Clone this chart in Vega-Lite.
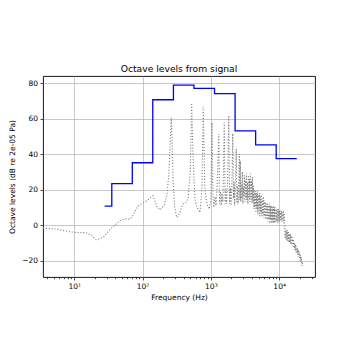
{
  "$schema": "https://vega.github.io/schema/vega-lite/v6.json",
  "autosize": {"type": "none"},
  "padding": {"left": 43, "top": 76, "right": 35, "bottom": 73},
  "width": 272,
  "height": 201,
  "background": "white",
  "config": {
    "font": "DejaVu Sans",
    "view": {"stroke": "black", "strokeWidth": 0.9},
    "axis": {
      "domain": false,
      "labelFont": "DejaVu Sans",
      "titleFont": "DejaVu Sans",
      "labelFontSize": 7.5,
      "titleFontSize": 7.5,
      "titleFontWeight": "normal",
      "labelColor": "black",
      "titleColor": "black",
      "tickColor": "black",
      "tickWidth": 0.7,
      "gridColor": "#b0b0b0",
      "gridWidth": 0.7
    }
  },
  "title": {
    "text": "Octave levels from signal",
    "font": "DejaVu Sans",
    "fontSize": 9.2,
    "fontWeight": "normal",
    "color": "black",
    "baseline": "alphabetic",
    "offset": -5.5
  },
  "datasets": {
    "spectrum": [
      {"f": 3.48, "db": -1.7}, {"f": 4.2, "db": -2.0}, {"f": 5.4, "db": -2.3}, {"f": 6.8, "db": -3.0},
      {"f": 8.6, "db": -3.8}, {"f": 11, "db": -4.2}, {"f": 14.8, "db": -4.3}, {"f": 18.1, "db": -6},
      {"f": 20.8, "db": -8.3}, {"f": 23.8, "db": -7.8}, {"f": 27.2, "db": -6.5}, {"f": 33.3, "db": -2.5},
      {"f": 39.4, "db": 0}, {"f": 46.7, "db": 2.5}, {"f": 55.2, "db": 3.5}, {"f": 65.4, "db": 3.2},
      {"f": 72.3, "db": 5.5}, {"f": 80, "db": 9}, {"f": 91.6, "db": 11.5}, {"f": 108, "db": 13},
      {"f": 128, "db": 15}, {"f": 142, "db": 16.5}, {"f": 150, "db": 14}, {"f": 162, "db": 10.5},
      {"f": 180, "db": 8.5}, {"f": 206, "db": 11}, {"f": 228, "db": 17}, {"f": 244, "db": 30},
      {"f": 256, "db": 50}, {"f": 263, "db": 60.6}, {"f": 270, "db": 48}, {"f": 280, "db": 25},
      {"f": 295, "db": 10}, {"f": 316, "db": 4.3}, {"f": 353, "db": 7}, {"f": 387, "db": 11.8},
      {"f": 440, "db": 13}, {"f": 465, "db": 15.5}, {"f": 500, "db": 30}, {"f": 523, "db": 68.7},
      {"f": 546, "db": 40}, {"f": 584, "db": 15}, {"f": 625, "db": 10}, {"f": 692, "db": 7.1},
      {"f": 740, "db": 20}, {"f": 773, "db": 66.6}, {"f": 818, "db": 20}, {"f": 876, "db": 12},
      {"f": 946, "db": 9}, {"f": 1000, "db": 15}, {"f": 1037, "db": 57.8}, {"f": 1072, "db": 17},
      {"f": 1110, "db": 10}, {"f": 1148, "db": 16}, {"f": 1190, "db": 11}, {"f": 1227, "db": 20},
      {"f": 1308, "db": 51.3}, {"f": 1340, "db": 12}, {"f": 1380, "db": 19}, {"f": 1420, "db": 11}, {"f": 1452, "db": 18},
      {"f": 1500, "db": 13}, {"f": 1570, "db": 57.8}, {"f": 1620, "db": 12}, {"f": 1660, "db": 20}, {"f": 1700, "db": 12}, {"f": 1750, "db": 22},
      {"f": 1831, "db": 61.8}, {"f": 1880, "db": 12}, {"f": 1933, "db": 21}, {"f": 1980, "db": 11}, {"f": 2030, "db": 22},
      {"f": 2093, "db": 51.6}, {"f": 2150, "db": 15}, {"f": 2190, "db": 24}, {"f": 2230, "db": 11}, {"f": 2290, "db": 25},
      {"f": 2354, "db": 43}, {"f": 2400, "db": 13}, {"f": 2450, "db": 22}, {"f": 2500, "db": 12}, {"f": 2560, "db": 26},
      {"f": 2616, "db": 40},
      {"f": 2661, "db": 14}, {"f": 2706, "db": 36}, {"f": 2752, "db": 13}, {"f": 2799, "db": 24},
      {"f": 2847, "db": 15}, {"f": 2895, "db": 30}, {"f": 2944, "db": 12}, {"f": 2994, "db": 22},
      {"f": 3045, "db": 16}, {"f": 3097, "db": 28}, {"f": 3150, "db": 13}, {"f": 3204, "db": 25},
      {"f": 3258, "db": 15}, {"f": 3313, "db": 29}, {"f": 3370, "db": 14}, {"f": 3427, "db": 24},
      {"f": 3485, "db": 12}, {"f": 3544, "db": 28}, {"f": 3605, "db": 15}, {"f": 3666, "db": 26},
      {"f": 3729, "db": 13}, {"f": 3792, "db": 29}, {"f": 3857, "db": 15}, {"f": 3923, "db": 25},
      {"f": 3989, "db": 12}, {"f": 4057, "db": 27}, {"f": 4126, "db": 13}, {"f": 4196, "db": 22},
      {"f": 4268, "db": 9}, {"f": 4341, "db": 20}, {"f": 4414, "db": 10}, {"f": 4489, "db": 19},
      {"f": 4566, "db": 7}, {"f": 4644, "db": 18}, {"f": 4722, "db": 9}, {"f": 4802, "db": 19},
      {"f": 4884, "db": 6}, {"f": 4967, "db": 17}, {"f": 5052, "db": 8}, {"f": 5138, "db": 18},
      {"f": 5225, "db": 5}, {"f": 5314, "db": 16}, {"f": 5405, "db": 7}, {"f": 5497, "db": 17},
      {"f": 5590, "db": 5}, {"f": 5685, "db": 15}, {"f": 5782, "db": 6}, {"f": 5880, "db": 16},
      {"f": 5980, "db": 4}, {"f": 6082, "db": 14}, {"f": 6185, "db": 5}, {"f": 6290, "db": 13},
      {"f": 6398, "db": 3}, {"f": 6507, "db": 12}, {"f": 6617, "db": 4}, {"f": 6729, "db": 12},
      {"f": 6844, "db": 2}, {"f": 6960, "db": 11}, {"f": 7079, "db": 3}, {"f": 7199, "db": 12},
      {"f": 7322, "db": 1}, {"f": 7446, "db": 11}, {"f": 7574, "db": 3}, {"f": 7703, "db": 11},
      {"f": 7834, "db": 1}, {"f": 7967, "db": 10}, {"f": 8103, "db": 2}, {"f": 8241, "db": 11},
      {"f": 8381, "db": 1}, {"f": 8523, "db": 10}, {"f": 8669, "db": 2}, {"f": 8816, "db": 10},
      {"f": 8966, "db": 1}, {"f": 9118, "db": 9}, {"f": 9274, "db": 2}, {"f": 9432, "db": 9},
      {"f": 9592, "db": 1}, {"f": 9755, "db": 9}, {"f": 9922, "db": 2}, {"f": 10091, "db": 8},
      {"f": 10262, "db": 2}, {"f": 10436, "db": 8}, {"f": 10615, "db": 3}, {"f": 10795, "db": 8},
      {"f": 10979, "db": 2}, {"f": 11166, "db": 7}, {"f": 11356, "db": 2}, {"f": 11549, "db": 8},
      {"f": 11746, "db": 1}, {"f": 11946, "db": 6}, {"f": 12149, "db": -7}, {"f": 12356, "db": -2},
      {"f": 12566, "db": -8}, {"f": 12780, "db": -3}, {"f": 12998, "db": -9}, {"f": 13219, "db": -3},
      {"f": 13444, "db": -9}, {"f": 13673, "db": -4}, {"f": 13906, "db": -10}, {"f": 14142, "db": -5},
      {"f": 14383, "db": -10}, {"f": 14628, "db": -5}, {"f": 14877, "db": -11}, {"f": 15130, "db": -6},
      {"f": 15388, "db": -11}, {"f": 15650, "db": -7}, {"f": 15916, "db": -12}, {"f": 16187, "db": -8},
      {"f": 16462, "db": -13}, {"f": 16742, "db": -10}, {"f": 17028, "db": -14}, {"f": 17317, "db": -11},
      {"f": 17612, "db": -15}, {"f": 17911, "db": -12}, {"f": 18217, "db": -16}, {"f": 18527, "db": -13},
      {"f": 18842, "db": -17}, {"f": 19162, "db": -14}, {"f": 19489, "db": -18}, {"f": 19820, "db": -15},
      {"f": 20158, "db": -20}, {"f": 20501, "db": -17}, {"f": 20850, "db": -21}, {"f": 21204, "db": -18},
      {"f": 21566, "db": -23}, {"f": 22050, "db": -21}
    ],
    "octaves": [
      {"f": 27.8, "db": 10.7}, {"f": 35.4, "db": 23.3}, {"f": 70.7, "db": 35.1},
      {"f": 141, "db": 70.6}, {"f": 283, "db": 78.9}, {"f": 566, "db": 77.0},
      {"f": 1131, "db": 74.1}, {"f": 2263, "db": 53.1}, {"f": 4525, "db": 45.2},
      {"f": 9051, "db": 37.4}, {"f": 18102, "db": 37.4}
    ]
  },
  "encoding": {
    "x": {
      "field": "f",
      "type": "quantitative",
      "title": "Frequency (Hz)",
      "scale": {"type": "log", "domain": [3.48, 33500], "nice": false},
      "axis": {
        "values": [4, 5, 6, 7, 8, 9, 10, 20, 30, 40, 50, 60, 70, 80, 90, 100, 200, 300, 400, 500, 600, 700, 800, 900, 1000, 2000, 3000, 4000, 5000, 6000, 7000, 8000, 9000, 10000, 20000, 30000],
        "labelExpr": "datum.value == 10 ? '10¹' : datum.value == 100 ? '10²' : datum.value == 1000 ? '10³' : datum.value == 10000 ? '10⁴' : ''",
        "labelOverlap": false,
        "labelFlush": false,
        "grid": true,
        "gridOpacity": {"condition": {"test": "indexof([10,100,1000,10000], datum.value) >= 0", "value": 1}, "value": 0},
        "tickSize": {"condition": {"test": "indexof([10,100,1000,10000], datum.value) >= 0", "value": 3}, "value": 1.7},
        "labelPadding": 2.5,
        "titlePadding": 3
      }
    },
    "y": {
      "field": "db",
      "type": "quantitative",
      "title": "Octave levels (dB re 2e-05 Pa)",
      "scale": {"domain": [-29.3, 84], "nice": false, "zero": false},
      "axis": {
        "values": [-20, 0, 20, 40, 60, 80],
        "grid": true,
        "tickSize": 3,
        "labelPadding": 2.5,
        "titlePadding": 5
      }
    }
  },
  "layer": [
    {
      "data": {"name": "spectrum"},
      "mark": {"type": "line", "color": "#808080", "strokeWidth": 1.1, "strokeDash": [1.1, 1.8], "clip": true}
    },
    {
      "data": {"name": "octaves"},
      "mark": {"type": "line", "color": "blue", "strokeWidth": 1.3, "interpolate": "step-after", "clip": true}
    }
  ]
}
